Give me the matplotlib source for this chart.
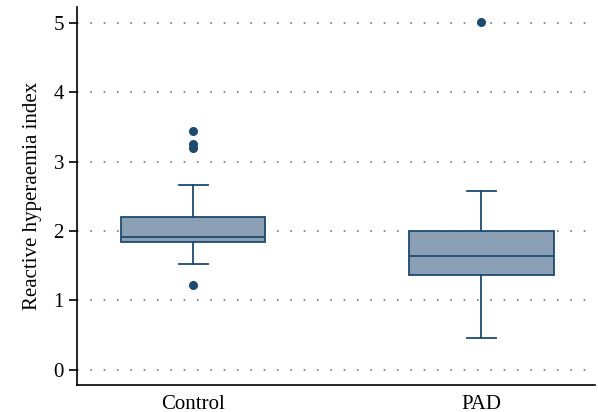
import matplotlib.pyplot as plt

# Data
groups = ['Control', 'PAD']
q1 = [1.84, 1.37]
median = [1.92, 1.64]
q3 = [2.21, 2.00]
whisker_low = [1.52, 0.46]
whisker_high = [2.66, 2.58]
outliers = [[3.44, 3.25, 3.20, 1.22], [5.02]]

edge = '#1d4a6e'
fill = '#8ba0b4'

plt.rcParams['font.family'] = ['Liberation Serif', 'DejaVu Serif']

fig = plt.figure(figsize=(5.98, 4.12), dpi=100)
ax = fig.add_axes([0.129, 0.066, 0.866, 0.917])

stats = []
for i, g in enumerate(groups):
    stats.append({'label': g, 'q1': q1[i], 'med': median[i], 'q3': q3[i],
                  'whislo': whisker_low[i], 'whishi': whisker_high[i],
                  'fliers': outliers[i]})

ax.bxp(stats, positions=[1, 2], widths=0.5, patch_artist=True,
       boxprops=dict(facecolor=fill, edgecolor=edge, linewidth=1.3),
       medianprops=dict(color=edge, linewidth=1.3),
       whiskerprops=dict(color=edge, linewidth=1.3),
       capprops=dict(color=edge, linewidth=1.3),
       capwidths=0.1,
       flierprops=dict(marker='o', markerfacecolor=edge, markeredgecolor=edge,
                       markersize=5.5))

ax.set_xlim(0.597, 2.394)
ax.set_ylim(-0.216, 5.23)
ax.set_yticks([0, 1, 2, 3, 4, 5])
ax.yaxis.grid(True, linestyle=(0, (1, 7)), color='#777777', linewidth=1.2)
ax.set_axisbelow(True)

for s in ['top', 'right']:
    ax.spines[s].set_visible(False)
ax.spines['left'].set_linewidth(1.2)
ax.spines['bottom'].set_linewidth(1.2)
ax.tick_params(axis='y', length=6, width=1.2, labelsize=15)
ax.tick_params(axis='x', length=0, labelsize=15, pad=7)
ax.set_ylabel('Reactive hyperaemia index', fontsize=15, labelpad=8)

fig.savefig('out.png', dpi=100)
